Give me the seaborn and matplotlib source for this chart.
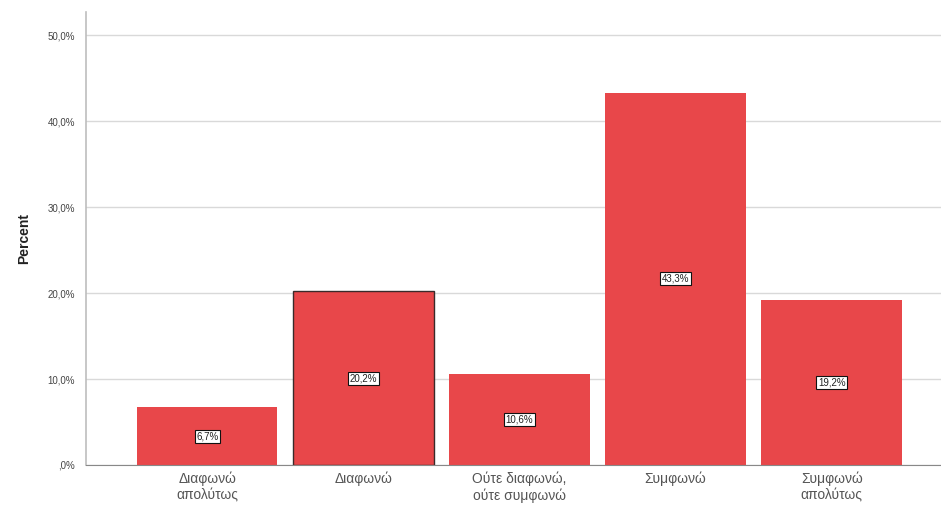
import matplotlib
matplotlib.use("Agg")
import matplotlib.pyplot as plt
import seaborn as sns
import pandas as pd
from matplotlib.ticker import FuncFormatter

categories = ["Διαφωνώ\nαπολύτως", "Διαφωνώ", "Ούτε διαφωνώ,\nούτε συμφωνώ", "Συμφωνώ", "Συμφωνώ\nαπολύτως"]
percent = [6.7, 20.2, 10.6, 43.3, 19.2]
y_ticks = [0, 10, 20, 30, 40, 50]

sns.set_theme(style="white")
plt.rcParams["font.family"] = ["Liberation Sans", "DejaVu Sans"]

df = pd.DataFrame({"category": categories, "percent": percent})

fig = plt.figure(figsize=(9.41, 5.13), dpi=100)
ax = fig.add_axes([0.0914, 0.0936, 0.9086, 0.883])

sns.barplot(data=df, x="category", y="percent", color="#E8474A", saturation=1,
            width=0.9, ax=ax, linewidth=0)

# the second bar carries a dark outline
ax.patches[1].set_edgecolor("#3a2a2a")
ax.patches[1].set_linewidth(1.0)

for i, v in enumerate(percent):
    ax.text(i, v / 2, f"{v:.1f}%".replace(".", ","), ha="center", va="center",
            fontsize=7, color="#222222",
            bbox=dict(boxstyle="square,pad=0.15", fc="white", ec="#111111", lw=0.8))

ax.set_xlim(-0.776, 0.70 + len(categories) - 1)
ax.set_ylim(0, 52.7)
ax.set_yticks(y_ticks)
ax.yaxis.set_major_formatter(FuncFormatter(lambda v, p: ",0%" if v == 0 else f"{v:.1f}%".replace(".", ",")))
ax.grid(axis="y", color="#d9d9d9", linewidth=1.0)
ax.set_axisbelow(True)
for s in ["top", "right"]:
    ax.spines[s].set_visible(False)
ax.spines["left"].set_color("#bdbdbd")
ax.spines["bottom"].set_color("#888888")
ax.spines["left"].set_linewidth(1.2)
ax.spines["bottom"].set_linewidth(0.8)

ax.tick_params(axis="y", labelsize=7, colors="#444444", length=0, pad=8)
ax.tick_params(axis="x", labelsize=10, colors="#555555", length=0, pad=5)
ax.set_xlabel("")
ax.set_ylabel("Percent", fontsize=10, fontweight="bold", color="#222222", labelpad=12)

fig.savefig("out.png", dpi=100)
